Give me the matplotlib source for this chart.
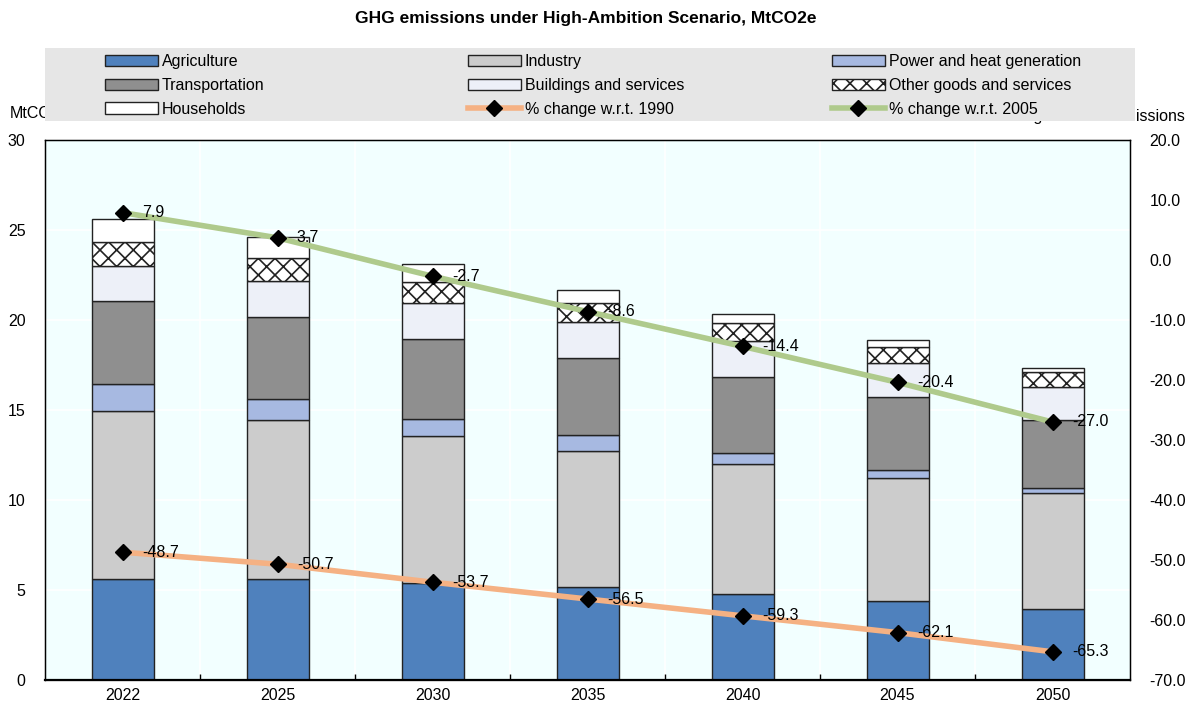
import numpy as np
import matplotlib
matplotlib.use('Agg')
import matplotlib.pyplot as plt
from matplotlib.patches import Patch, Rectangle
from matplotlib.lines import Line2D
from matplotlib.ticker import FormatStrFormatter

plt.rcParams['font.family'] = ['Liberation Sans', 'DejaVu Sans']
plt.rcParams['hatch.linewidth'] = 1.2
plt.rcParams['hatch.color'] = '#333333'

# data
years = ['2022', '2025', '2030', '2035', '2040', '2045', '2050']
agriculture = [5.61, 5.61, 5.39, 5.18, 4.79, 4.37, 3.93]
industry = [9.32, 8.83, 8.17, 7.54, 7.21, 6.84, 6.44]
power_heat = [1.50, 1.17, 0.96, 0.87, 0.63, 0.46, 0.28]
transportation = [4.61, 4.54, 4.41, 4.30, 4.22, 4.07, 3.79]
buildings = [1.96, 2.03, 2.03, 2.02, 1.97, 1.89, 1.82]
other_goods = [1.32, 1.26, 1.17, 1.05, 1.00, 0.89, 0.83]
households = [1.27, 1.15, 0.96, 0.71, 0.50, 0.37, 0.23]
chg_1990 = [-48.7, -50.7, -53.7, -56.5, -59.3, -62.1, -65.3]
chg_2005 = [7.9, 3.7, -2.7, -8.6, -14.4, -20.4, -27.0]

sectors = [
    ('Agriculture', agriculture, '#4f81bd', None),
    ('Industry', industry, '#cccccc', None),
    ('Power and heat generation', power_heat, '#a7b9e1', None),
    ('Transportation', transportation, '#8f8f8f', None),
    ('Buildings and services', buildings, '#edf0f8', None),
    ('Other goods and services', other_goods, '#ffffff', 'xx'),
    ('Households', households, '#ffffff', None),
]

W, H = 1192, 706
fs = 11.5
fig = plt.figure(figsize=(W / 100, H / 100), dpi=100)
ax = fig.add_axes([45 / W, 26 / H, 1085 / W, 540 / H])
ax.set_facecolor('#f2ffff')

x = np.arange(len(years))
bottom = np.zeros(len(years))
handles = {}
for name, vals, col, hatch in sectors:
    ax.bar(x, vals, 0.4, bottom=bottom, color=col, edgecolor='#222222',
           linewidth=1.0, hatch=hatch, zorder=2)
    bottom += np.array(vals)
    handles[name] = Patch(facecolor=col, edgecolor='#222222', hatch=hatch, linewidth=1.0)

ax.set_xlim(-0.5, len(years) - 0.5)
ax.set_ylim(0, 30)
ax.set_yticks(np.arange(0, 31, 5))
ax.set_xticks(x)
ax.set_xticklabels(years)
ax.set_xticks(np.arange(0.5, len(years) - 1, 1), minor=True)
ax.grid(True, axis='y', color='white', linewidth=1.2, zorder=0)
ax.grid(True, axis='x', which='minor', color='white', linewidth=1.2, zorder=0)
ax.tick_params(axis='x', which='major', length=0, labelsize=fs, pad=6)
ax.tick_params(axis='x', which='minor', direction='in', length=4, width=1, color='black')
ax.tick_params(axis='y', length=0, labelsize=fs, pad=14)
ax.set_axisbelow(True)
for s in ax.spines.values():
    s.set_color('black')
    s.set_linewidth(1)
ax.spines['bottom'].set_linewidth(1.6)

ax2 = ax.twinx()
ax2.set_ylim(-70, 20)
ax2.set_yticks(np.arange(-70, 21, 10))
ax2.yaxis.set_major_formatter(FormatStrFormatter('%.1f'))
ax2.tick_params(axis='y', length=0, labelsize=fs, pad=14)
ax2.plot(x, chg_1990, color='#f5b183', linewidth=4, zorder=3)
ax2.plot(x, chg_2005, color='#afca8c', linewidth=4, zorder=3)
ax2.plot(x, chg_1990, linestyle='none', marker='D', color='black', markersize=8.5, zorder=4)
ax2.plot(x, chg_2005, linestyle='none', marker='D', color='black', markersize=8.5, zorder=4)
for series in (chg_1990, chg_2005):
    for xi, v in zip(x, series):
        ax2.annotate(f'{v:.1f}', (xi, v), xytext=(14, 0), textcoords='offset points',
                     va='center', ha='left', fontsize=fs, zorder=5)

fig.text(586 / W, 1 - 18 / H, 'GHG emissions under High-Ambition Scenario, MtCO2e',
         ha='center', va='center', fontsize=12.5, fontweight='bold')
fig.text(10 / W, 1 - 113 / H, 'MtCO2e', ha='left', va='center', fontsize=fs)
fig.text(1185 / W, 1 - 117 / H, '% change in GHG emissions', ha='right', va='center', fontsize=fs)

# gray legend band covering the axis titles, like the original
fig.patches.append(Rectangle((45 / W, 1 - 121 / H), 1090 / W, 73 / H,
                             transform=fig.transFigure, facecolor='#e6e6e6',
                             edgecolor='none', zorder=4))

line1990 = Line2D([], [], color='#f5b183', linewidth=4, marker='D', markerfacecolor='black',
                  markeredgecolor='black', markersize=8.5)
line2005 = Line2D([], [], color='#afca8c', linewidth=4, marker='D', markerfacecolor='black',
                  markeredgecolor='black', markersize=8.5)
columns = [
    (105, [(handles['Agriculture'], 'Agriculture'),
           (handles['Transportation'], 'Transportation'),
           (handles['Households'], 'Households')]),
    (468, [(handles['Industry'], 'Industry'),
           (handles['Buildings and services'], 'Buildings and services'),
           (line1990, '% change w.r.t. 1990')]),
    (832, [(handles['Power and heat generation'], 'Power and heat generation'),
           (handles['Other goods and services'], 'Other goods and services'),
           (line2005, '% change w.r.t. 2005')]),
]
for xpos, items in columns:
    leg = fig.legend([h for h, l in items], [l for h, l in items], ncol=1,
                     loc='upper left', bbox_to_anchor=(xpos / W, 1 - 54 / H),
                     frameon=False, fontsize=fs, handlelength=3.3, handleheight=0.7,
                     labelspacing=0.55, borderpad=0, handletextpad=0.25, borderaxespad=0)
    leg.set_zorder(6)

fig.savefig('out.png', dpi=100)
